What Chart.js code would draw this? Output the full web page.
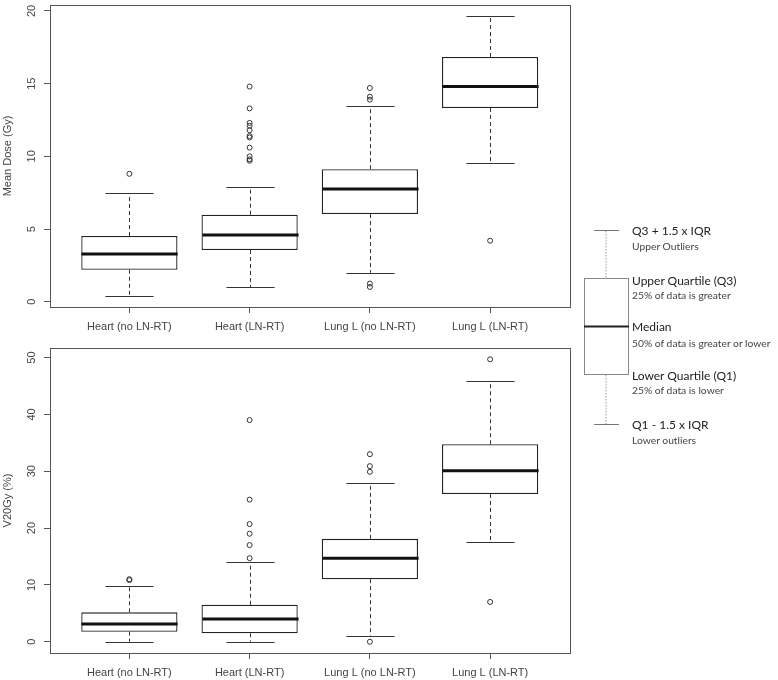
<!DOCTYPE html>
<html>
<head>
<meta charset="utf-8">
<script src="https://cdn.jsdelivr.net/npm/chart.js@4.4.1/dist/chart.umd.min.js"></script>
<style>
  body { margin: 0; background: #fff; width: 778px; height: 680px; position: relative; overflow: hidden; }
  .panel { position: absolute; left: 0; width: 575px; }
  #topPanel { top: 0; height: 337px; }
  #bottomPanel { top: 337px; height: 343px; }
  #key { position: absolute; left: 0; top: 0; }
  #key text { font-family: Lato, "Open Sans", sans-serif; }
</style>
</head>
<body>
<div class="panel" id="topPanel"><canvas id="chartDose"></canvas></div>
<div class="panel" id="bottomPanel"><canvas id="chartV20"></canvas></div>

<!-- explicação do boxplot -->
<svg id="key" width="778" height="680">
  <g fill="none">
    <line x1="606" y1="231" x2="606" y2="278" stroke="#999" stroke-dasharray="1.5 1.5"/>
    <line x1="606" y1="375" x2="606" y2="424" stroke="#999" stroke-dasharray="1.5 1.5"/>
    <line x1="594" y1="230.5" x2="619" y2="230.5" stroke="#777"/>
    <line x1="594" y1="424.5" x2="619" y2="424.5" stroke="#777"/>
    <rect x="584.5" y="278.5" width="44" height="96" stroke="#888"/>
    <line x1="584" y1="326.5" x2="629" y2="326.5" stroke="#222" stroke-width="2"/>
  </g>
  <g fill="#222" font-size="12" dominant-baseline="central">
    <text x="632" y="230">Q3 + 1.5 x IQR</text>
    <text x="632" y="280">Upper Quartile (Q3)</text>
    <text x="632" y="326">Median</text>
    <text x="632" y="375">Lower Quartile (Q1)</text>
    <text x="632" y="424">Q1 - 1.5 x IQR</text>
  </g>
  <g fill="#444" font-size="10.3" dominant-baseline="central">
    <text x="632" y="246">Upper Outliers</text>
    <text x="632" y="295">25% of data is greater</text>
    <text x="632" y="343">50% of data is greater or lower</text>
    <text x="632" y="390">25% of data is lower</text>
    <text x="632" y="440">Lower outliers</text>
  </g>
</svg>

<script>
// Grupos (eixo x)
const groups = ['Heart (no LN-RT)', 'Heart (LN-RT)', 'Lung L (no LN-RT)', 'Lung L (LN-RT)'];

// Mean Dose (Gy)
const doseLow  = [0.41, 1.0, 2.0, 9.55];
const doseQ1   = [2.2, 3.56, 6.03, 13.33];
const doseMed  = [3.29, 4.6, 7.76, 14.81];
const doseQ3   = [4.52, 5.99, 9.12, 16.83];
const doseHigh = [7.48, 7.92, 13.43, 19.64];
const doseOut  = [[8.8], [14.8, 13.3, 12.3, 12.1, 11.8, 11.4, 11.3, 10.6, 10.0, 9.8, 9.7], [14.7, 14.1, 13.9, 1.25, 1.02], [4.2]];
const doseTicks = [0, 5, 10, 15, 20];

// V20Gy (%)
const v20Low  = [0, 0, 1.05, 17.5];
const v20Q1   = [1.76, 1.47, 11.0, 26.0];
const v20Med  = [3.11, 4.0, 14.7, 30.1];
const v20Q3   = [5.17, 6.5, 18.1, 34.75];
const v20High = [9.74, 14.06, 27.95, 45.9];
const v20Out  = [[10.84, 11.0], [39.0, 25.0, 20.7, 19.0, 17.0, 14.7], [33.0, 30.9, 29.9, 0], [49.7, 7.0]];
const v20Ticks = [0, 10, 20, 30, 40, 50];

const axisFont = { family: '"Liberation Sans", Arial, sans-serif', size: 11 };
const lineColor = '#555';
const textColor = '#444';

// desenha bigodes, mediana e a moldura do gráfico
function boxPlugin(s) {
    return {
        id: 'boxParts',
        afterDatasetsDraw(chart) {
            const x = chart.scales.x, y = chart.scales.y;
            const bars = chart.getDatasetMeta(0).data;
            const ctx = chart.ctx;
            ctx.save();
            s.med.forEach((m, i) => {
                const cx = Math.round(x.getPixelForValue(i + 1)) + 0.5;
                const half = bars[i].width / 2;
                const cap = half / 2;
                // whiskers
                ctx.strokeStyle = '#333';
                ctx.lineWidth = 1;
                ctx.setLineDash([4, 3]);
                ctx.beginPath();
                ctx.moveTo(cx, y.getPixelForValue(s.q3[i]));
                ctx.lineTo(cx, y.getPixelForValue(s.high[i]));
                ctx.moveTo(cx, y.getPixelForValue(s.q1[i]));
                ctx.lineTo(cx, y.getPixelForValue(s.low[i]));
                ctx.stroke();
                ctx.setLineDash([]);
                ctx.beginPath();
                [s.high[i], s.low[i]].forEach(v => {
                    const py = Math.round(y.getPixelForValue(v)) + 0.5;
                    ctx.moveTo(cx - cap, py);
                    ctx.lineTo(cx + cap, py);
                });
                ctx.stroke();
                // median
                ctx.strokeStyle = '#111';
                ctx.lineWidth = 3;
                ctx.beginPath();
                const my = y.getPixelForValue(m);
                ctx.moveTo(cx - half, my);
                ctx.lineTo(cx + half, my);
                ctx.stroke();
            });
            const a = chart.chartArea;
            ctx.strokeStyle = lineColor;
            ctx.lineWidth = 1;
            ctx.strokeRect(Math.round(a.left) + 0.5, Math.round(a.top) + 0.5, Math.round(a.right - a.left), Math.round(a.bottom - a.top));
            ctx.restore();
        }
    };
}

function makeBoxChart(id, title, low, q1, med, q3, high, out, ticks, padTop, axisH) {
    // faixa do eixo y como no R (4% de folga)
    const all = low.concat(high, ...out);
    const lo = Math.min(...all), hi = Math.max(...all);
    const ext = (hi - lo) * 0.04;

    return new Chart(document.getElementById(id), {
        type: 'bar',
        data: {
            datasets: [{
                data: groups.map((g, i) => ({ x: i + 1, y: [q1[i], q3[i]] })),
                backgroundColor: '#fff',
                borderColor: '#222',
                borderWidth: 1.3,
                borderSkipped: false,
                categoryPercentage: 1,
                barPercentage: 0.8
            }, {
                type: 'scatter',
                data: out.flatMap((vals, i) => vals.map(v => ({ x: i + 1, y: v }))),
                pointRadius: 2.5,
                pointBorderWidth: 1,
                pointBackgroundColor: 'rgba(0,0,0,0)',
                pointBorderColor: '#333'
            }]
        },
        options: {
            responsive: true,
            maintainAspectRatio: false,
            animation: false,
            layout: { padding: { top: padTop, right: 5.5, left: 0, bottom: 0 } },
            plugins: { legend: { display: false }, tooltip: { enabled: false } },
            scales: {
                x: {
                    type: 'linear',
                    offset: false,
                    min: 0.5 - 0.16,
                    max: groups.length + 0.5 + 0.16,
                    afterBuildTicks: s => { s.ticks = groups.map((g, i) => ({ value: i + 1 })); },
                    afterFit: s => { s.height = axisH; s.paddingLeft = 0; s.paddingRight = 0; },
                    ticks: { callback: (v, i) => groups[i], font: axisFont, color: textColor, padding: 7, autoSkip: false, maxRotation: 0 },
                    grid: { offset: false, drawOnChartArea: false, tickLength: 6, color: lineColor },
                    border: { display: false }
                },
                y: {
                    min: lo - ext,
                    max: hi + ext,
                    afterBuildTicks: s => { s.ticks = ticks.map(v => ({ value: v })); },
                    afterFit: s => { s.width = 50; s.paddingTop = 0; s.paddingBottom = 0; },
                    ticks: { minRotation: 90, maxRotation: 90, crossAlign: 'center', padding: 6, font: axisFont, color: textColor },
                    grid: { drawOnChartArea: false, tickLength: 6, color: lineColor },
                    border: { display: false },
                    title: { display: true, text: title, font: axisFont, color: textColor, padding: { top: 1, bottom: 0 } }
                }
            }
        },
        plugins: [boxPlugin({ low, q1, med, q3, high })]
    });
}

makeBoxChart('chartDose', 'Mean Dose (Gy)', doseLow, doseQ1, doseMed, doseQ3, doseHigh, doseOut, doseTicks, 2, 30);
makeBoxChart('chartV20', 'V20Gy (%)', v20Low, v20Q1, v20Med, v20Q3, v20High, v20Out, v20Ticks, 11, 27);
</script>
</body>
</html>
